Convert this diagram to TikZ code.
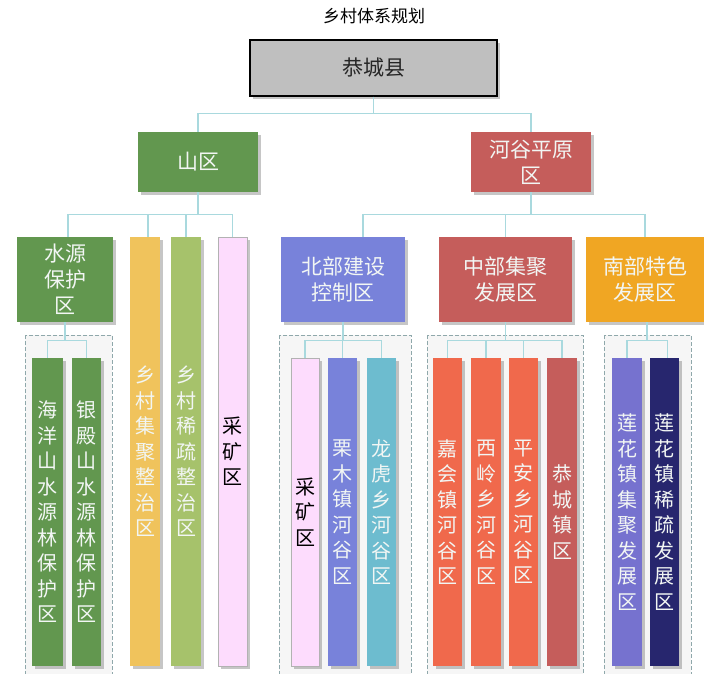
\documentclass[tikz,border=0pt]{standalone}
\usepackage{fontspec}
\setmainfont{Noto Sans CJK SC}
\usepackage{tikz}
\usetikzlibrary{shadows,positioning}
\definecolor{rootgray}{HTML}{BFBFBF}
\definecolor{shangreen}{HTML}{62974F}
\definecolor{hegured}{HTML}{C55D5B}
\definecolor{jijuyellow}{HTML}{F0C35C}
\definecolor{xishugreen}{HTML}{A6C26B}
\definecolor{minepink}{HTML}{FDDCFD}
\definecolor{northblue}{HTML}{7882DA}
\definecolor{southorange}{HTML}{F0A623}
\definecolor{valleyorange}{HTML}{F0694C}
\definecolor{longhucyan}{HTML}{6DBCCF}
\definecolor{lotusblue}{HTML}{7672CF}
\definecolor{lotusnavy}{HTML}{27266E}
\definecolor{linkcyan}{HTML}{A9D9DE}
\definecolor{dashgray}{HTML}{8FA8AB}
\definecolor{groupfill}{HTML}{F6F6F6}
\definecolor{labelwhite}{HTML}{F2F6F4}

\begin{document}
\begin{tikzpicture}[x=1pt,y=-1pt,
	box node/.style={rectangle, draw=none, text=labelwhite, align=center, inner sep=0pt, minimum height=85pt, font=\fontsize{21}{26}\selectfont, drop shadow={opacity=0.45,shadow xshift=3pt,shadow yshift=-3pt}},
	col node/.style={box node, minimum height=308pt, font=\fontsize{20}{25.5}\selectfont},
	group box/.style={draw=dashgray, fill=groupfill, line width=1pt, dash pattern=on 4pt off 2pt},
	link/.style={draw=linkcyan, line width=1.2pt}]
	\clip (0,0) rectangle (704,674);
	
	% group frames
	\draw[group box] (25,335) rectangle (112,690);
	\draw[group box] (279,335) rectangle (411,690);
	\draw[group box] (427,335) rectangle (583,690);
	\draw[group box] (604,335) rectangle (691,690);
	
	\node[font=\fontsize{17}{20}\selectfont] (title) at (374,16) {乡村体系规划};
	\node[box node, draw=black, line width=1.5pt, fill=rootgray, text=black!85, minimum width=247pt, minimum height=56pt, font=\fontsize{21}{26}\selectfont] (root) at (373.5,68) {恭城县};
	
	\node[box node, fill=shangreen, minimum width=120pt, minimum height=60pt] (shan) at (198,162) {山区};
	\node[box node, fill=hegured, minimum width=120pt, minimum height=60pt] (hegu) at (531,162) {河谷平原\\区};
	
	\node[box node, fill=shangreen, minimum width=96pt] (shuiyuan) at (65,279.5) {水源\\保护\\区};
	\node[col node, fill=jijuyellow, minimum width=30pt, minimum height=429pt] (jiju) at (145,451.5) {乡\\村\\集\\聚\\整\\治\\区};
	\node[col node, fill=xishugreen, minimum width=30pt, minimum height=429pt] (xishu) at (186,451.5) {乡\\村\\稀\\疏\\整\\治\\区};
	\node[col node, fill=minepink, draw=black!30, text=black, minimum width=29pt, minimum height=429pt] (mine) at (232.5,451.5) {采\\矿\\区};
	\node[box node, fill=northblue, minimum width=124pt] (north) at (343,279.5) {北部建设\\控制区};
	\node[box node, fill=hegured, minimum width=133pt] (middle) at (505.5,279.5) {中部集聚\\发展区};
	\node[box node, fill=southorange, minimum width=118pt] (south) at (645,279.5) {南部特色\\发展区};
	
	\node[col node, fill=shangreen, minimum width=31pt] (haiyang) at (47.5,512) {海\\洋\\山\\水\\源\\林\\保\\护\\区};
	\node[col node, fill=shangreen, minimum width=29pt] (yindian) at (86.5,512) {银\\殿\\山\\水\\源\\林\\保\\护\\区};
	
	\node[col node, fill=minepink, draw=black!30, text=black, minimum width=28pt] (mine2) at (305,512) {采\\矿\\区};
	\node[col node, fill=northblue, minimum width=29pt] (limu) at (342.5,512) {栗\\木\\镇\\河\\谷\\区};
	\node[col node, fill=longhucyan, minimum width=29pt] (longhu) at (381.5,512) {龙\\虎\\乡\\河\\谷\\区};
	
	\node[col node, fill=valleyorange, minimum width=29pt] (jiahui) at (447.5,512) {嘉\\会\\镇\\河\\谷\\区};
	\node[col node, fill=valleyorange, minimum width=30pt] (xiling) at (486,512) {西\\岭\\乡\\河\\谷\\区};
	\node[col node, fill=valleyorange, minimum width=29pt] (pingan) at (523.5,512) {平\\安\\乡\\河\\谷\\区};
	\node[col node, fill=hegured, minimum width=30pt] (gongcheng) at (562,512) {恭\\城\\镇\\区};
	
	\node[col node, fill=lotusblue, minimum width=30pt] (lianjiju) at (627,512) {莲\\花\\镇\\集\\聚\\发\\展\\区};
	\node[col node, fill=lotusnavy, minimum width=29pt] (lianxishu) at (664.5,512) {莲\\花\\镇\\稀\\疏\\发\\展\\区};
	
	% tree links
	\draw[link] (root.south) -- ++(0,17) -| (shan.north);
	\draw[link] (root.south) -- ++(0,17) -| (hegu.north);
	
	\draw[link] (shan.south) -- ++(0,22) -| ([xshift=3pt]shuiyuan.north);
	\draw[link] (shan.south) -- ++(0,22) -| ([xshift=3pt]jiju.north);
	\draw[link] (shan.south) -- ++(0,22) -| (xishu.north);
	\draw[link] (shan.south) -- ++(0,22) -| (mine.north);
	
	\draw[link] (hegu.south) -- ++(0,22) -| ([xshift=20pt]north.north);
	\draw[link] (hegu.south) -- ++(0,22) -| (middle.north);
	\draw[link] (hegu.south) -- ++(0,22) -| (south.north);
	
	\draw[link] (shuiyuan.south) -- ++(0,18) -| (haiyang.north);
	\draw[link] (shuiyuan.south) -- ++(0,18) -| (yindian.north);
	
	\draw[link] (north.south) -- ++(0,18) -| (mine2.north);
	\draw[link] (north.south) -- ++(0,18) -| (limu.north);
	\draw[link] (north.south) -- ++(0,18) -| (longhu.north);
	
	\draw[link] (middle.south) -- ++(0,18) -| (jiahui.north);
	\draw[link] (middle.south) -- ++(0,18) -| (xiling.north);
	\draw[link] (middle.south) -- ++(0,18) -| (pingan.north);
	\draw[link] (middle.south) -- ++(0,18) -| (gongcheng.north);
	
	\draw[link] ([xshift=2pt]south.south) -- ++(0,18) -| (lianjiju.north);
	\draw[link] ([xshift=2pt]south.south) -- ++(0,18) -| ([xshift=3pt]lianxishu.north);
\end{tikzpicture}
\end{document}
